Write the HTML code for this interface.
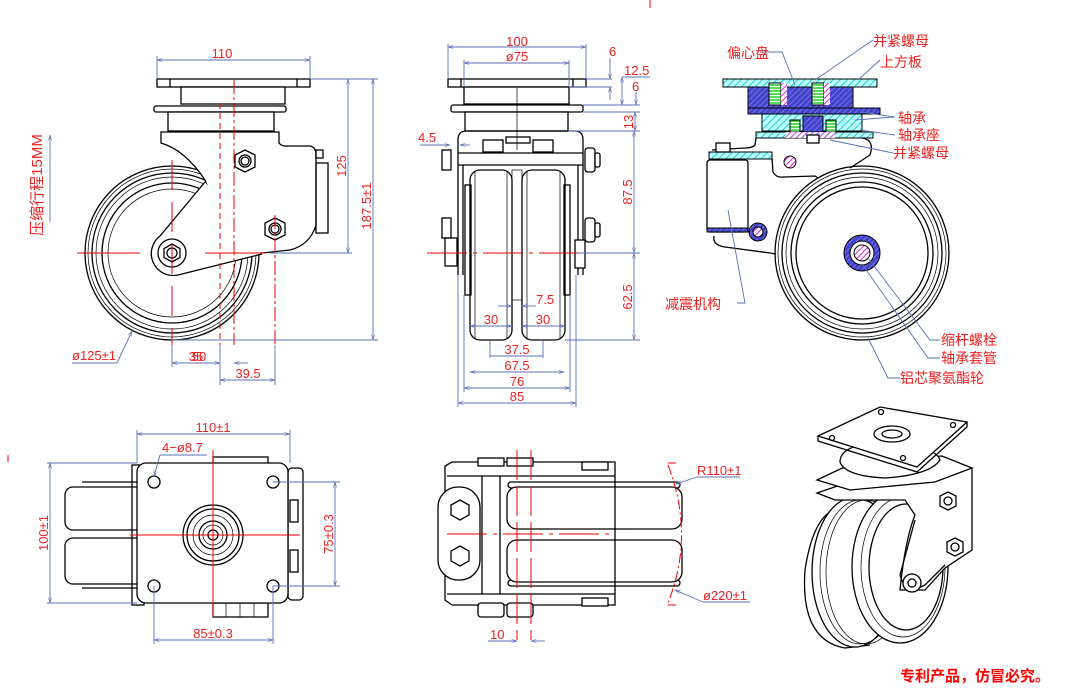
<!DOCTYPE html>
<html><head><meta charset="utf-8"><style>
body{margin:0;background:#fff}
svg{display:block;font-family:"Liberation Sans","Noto Sans CJK SC",sans-serif}
.k{stroke:#000;stroke-width:1.3;fill:none}
.kf{stroke:#000;stroke-width:1.3;fill:#fff}
.t{stroke:#000;stroke-width:.7;fill:none}
.r{stroke:#e00;stroke-width:1;fill:none;stroke-dasharray:14 3 3 3}
.rs{stroke:#e00;stroke-width:1;fill:none}
.b{stroke:#5a6fb5;stroke-width:.9;fill:none}
text{fill:#e22;font-size:13px}
.cn{font-size:14px}
</style></head><body>
<svg width="1077" height="693" viewBox="0 0 1077 693">
<defs>
<marker id="a" viewBox="0 0 10 10" refX="10" refY="5" markerWidth="7" markerHeight="6" orient="auto-start-reverse"><path d="M0,2 L10,5 L0,8" fill="none" stroke="#5a6fb5"/></marker>
<pattern id="hc" width="5" height="5" patternUnits="userSpaceOnUse" patternTransform="rotate(45)"><rect width="5" height="5" fill="#bff"/><line x1="0" y1="0" x2="0" y2="5" stroke="#2cc" stroke-width="2"/></pattern>
<pattern id="hb" width="4" height="4" patternUnits="userSpaceOnUse" patternTransform="rotate(45)"><rect width="4" height="4" fill="#44c"/><line x1="0" y1="0" x2="0" y2="4" stroke="#99e" stroke-width="1"/></pattern>
<pattern id="hp" width="4" height="4" patternUnits="userSpaceOnUse" patternTransform="rotate(45)"><rect width="4" height="4" fill="#fff"/><line x1="0" y1="0" x2="0" y2="4" stroke="#d2d" stroke-width="2"/></pattern>
<pattern id="hg" width="3" height="3" patternUnits="userSpaceOnUse"><rect width="3" height="3" fill="#fff"/><line x1="0" y1="1" x2="3" y2="1" stroke="#2c2" stroke-width="1.5"/></pattern>
</defs>
<line x1="650" y1="0" x2="650" y2="8" class="rs"/><line x1="8" y1="455" x2="8" y2="462" class="rs"/>

<!-- ===== VIEW 1 ===== -->
<g>
<circle cx="172" cy="253" r="87" class="k"/><circle cx="172" cy="253" r="84" class="t"/><circle cx="172" cy="253" r="80" class="k"/><circle cx="172" cy="253" r="76" class="t"/><circle cx="172" cy="253" r="70" class="k"/><circle cx="172" cy="253" r="64" class="t"/>
<rect x="157" y="79" width="153" height="8" class="kf"/><line x1="170" y1="79" x2="170" y2="87" class="k"/><line x1="297" y1="79" x2="297" y2="87" class="k"/>
<rect x="181" y="87" width="104" height="17" class="kf"/>
<rect x="154" y="106" width="132" height="6" rx="2" class="kf"/>
<rect x="168" y="112" width="106" height="19" class="kf"/>
<path d="M161,132 H279 V143 Q282,147 290,146 H310 Q316,147 316,155 V225 Q310,245 290,250 L262,253 L245,250 Q232,247 225,230 Q215,205 205,180 Q185,150 161,143 Z" class="kf"/>
<path d="M205,182 L160,236 A22,22 0 0 0 178,275 L262,254" class="kf"/>
<rect x="316" y="163" width="12" height="70" class="k"/><rect x="316" y="150" width="7" height="8" class="k"/>
<polygon points="245,150 255,155 255,167 245,172 235,167 235,155" class="kf"/><circle cx="245" cy="161" r="6" class="k"/><circle cx="245" cy="161" r="4" class="k"/>
<polygon points="275,218 285,223 285,235 275,240 265,235 265,223" class="kf"/><circle cx="275" cy="229" r="6" class="k"/><circle cx="275" cy="229" r="4" class="k"/>
<circle cx="172" cy="253" r="14" class="k"/><polygon points="172,244 180,248.5 180,257.5 172,262 164,257.5 164,248.5" class="k"/><circle cx="172" cy="253" r="5" class="k"/>
<line x1="77" y1="253" x2="140" y2="253" class="rs"/><line x1="205" y1="253" x2="265" y2="253" class="rs"/>
<line x1="172" y1="160" x2="172" y2="345" class="rs" stroke-dasharray="30 12"/>
<line x1="220" y1="103" x2="220" y2="345" class="rs" stroke-dasharray="6 4"/>
<line x1="234" y1="80" x2="234" y2="345" class="r"/>
<line x1="275" y1="215" x2="275" y2="345" class="r"/>
<line x1="157" y1="60" x2="310" y2="60" class="b" marker-start="url(#a)" marker-end="url(#a)"/><line x1="157" y1="56" x2="157" y2="79" class="b"/><line x1="310" y1="56" x2="310" y2="79" class="b"/>
<text x="222" y="58" text-anchor="middle">110</text>
<line x1="310" y1="79" x2="378" y2="79" class="b"/><line x1="270" y1="253" x2="352" y2="253" class="b"/><line x1="172" y1="340" x2="378" y2="340" class="b"/>
<line x1="348" y1="79" x2="348" y2="253" class="b" marker-start="url(#a)" marker-end="url(#a)"/><line x1="373" y1="79" x2="373" y2="340" class="b" marker-start="url(#a)" marker-end="url(#a)"/>
<text transform="translate(346,166) rotate(-90)" text-anchor="middle">125</text>
<text transform="translate(371,206) rotate(-90)" text-anchor="middle">187.5±1</text>
<line x1="172" y1="345" x2="172" y2="367" class="b"/><line x1="220" y1="345" x2="220" y2="385" class="b"/><line x1="275" y1="345" x2="275" y2="385" class="b"/>
<line x1="172" y1="363" x2="220" y2="363" class="b" marker-start="url(#a)" marker-end="url(#a)"/><line x1="234" y1="363" x2="248" y2="363" class="b" marker-start="url(#a)"/>
<text x="196" y="361" text-anchor="middle">35</text><text x="199" y="361" text-anchor="middle">50</text>
<line x1="220" y1="380" x2="275" y2="380" class="b" marker-start="url(#a)" marker-end="url(#a)"/><text x="248" y="378" text-anchor="middle">39.5</text>
<line x1="72" y1="363" x2="117" y2="363" class="b"/><line x1="117" y1="363" x2="132" y2="331" class="b" marker-end="url(#a)"/><text x="72" y="360">ø125±1</text>
<line x1="50" y1="222" x2="50" y2="135" class="b" marker-end="url(#a)"/>
<text transform="translate(42,185) rotate(-90)" text-anchor="middle" class="cn" style="font-size:15px">压缩行程15MM</text>
</g>

<!-- ===== VIEW 2 ===== -->
<g>
<rect x="470" y="170" width="42" height="170" rx="10" class="kf"/><rect x="522" y="170" width="43" height="170" rx="10" class="kf"/>
<line x1="475" y1="172" x2="475" y2="338" class="t"/><line x1="507" y1="172" x2="507" y2="338" class="t"/><line x1="527" y1="172" x2="527" y2="338" class="t"/><line x1="560" y1="172" x2="560" y2="338" class="t"/>
<rect x="465" y="185" width="6" height="110" class="k"/><rect x="564" y="185" width="6" height="110" class="k"/>
<rect x="512" y="170" width="10" height="130" class="t"/>
<rect x="448" y="79" width="138" height="8" class="kf"/><line x1="461" y1="79" x2="461" y2="87" class="k"/><line x1="573" y1="79" x2="573" y2="87" class="k"/>
<rect x="464" y="87" width="105" height="17" class="kf"/>
<rect x="451" y="105" width="132" height="7" rx="2" class="kf"/>
<rect x="465" y="112" width="103" height="19" class="kf"/>
<path d="M458,275 V140 Q458,131 466,131 H575 Q583,131 583,140 V275" class="k"/>
<line x1="458" y1="153" x2="583" y2="153" class="k"/><line x1="458" y1="165" x2="583" y2="165" class="k"/>
<line x1="463" y1="165" x2="463" y2="275" class="k"/><line x1="578" y1="165" x2="578" y2="275" class="k"/>
<rect x="483" y="140" width="20" height="12" class="k"/><rect x="533" y="140" width="20" height="12" class="k"/><rect x="506" y="137" width="24" height="6" class="k"/>
<rect x="442" y="150" width="9" height="20" class="kf"/><rect x="442" y="218" width="9" height="20" class="kf"/><rect x="445" y="238" width="12" height="28" class="kf"/>
<rect x="585" y="148" width="10" height="24" rx="3" class="kf"/><rect x="595" y="153" width="5" height="14" rx="2" class="kf"/>
<rect x="585" y="218" width="10" height="24" rx="3" class="kf"/><rect x="595" y="223" width="5" height="14" rx="2" class="kf"/>
<rect x="575" y="240" width="10" height="28" class="kf"/>
<line x1="427" y1="253" x2="610" y2="253" class="rs" stroke-dasharray="40 6 4 6"/>
<line x1="517" y1="88" x2="517" y2="150" class="t"/>
<line x1="448" y1="47" x2="586" y2="47" class="b" marker-start="url(#a)" marker-end="url(#a)"/><line x1="448" y1="44" x2="448" y2="79" class="b"/><line x1="586" y1="44" x2="586" y2="79" class="b"/>
<text x="517" y="46" text-anchor="middle">100</text>
<line x1="464" y1="63" x2="569" y2="63" class="b" marker-start="url(#a)" marker-end="url(#a)"/><line x1="464" y1="60" x2="464" y2="87" class="b"/><line x1="569" y1="60" x2="569" y2="87" class="b"/>
<text x="517" y="61" text-anchor="middle">ø75</text>
<line x1="586" y1="79" x2="612" y2="79" class="b"/><line x1="569" y1="87" x2="612" y2="87" class="b"/><line x1="583" y1="105" x2="640" y2="105" class="b"/><line x1="583" y1="112" x2="640" y2="112" class="b"/><line x1="568" y1="131" x2="640" y2="131" class="b"/>
<line x1="610" y1="58" x2="610" y2="79" class="b" marker-end="url(#a)"/><line x1="610" y1="100" x2="610" y2="87" class="b" marker-end="url(#a)"/><text x="609" y="56">6</text>
<line x1="622" y1="77" x2="650" y2="77" class="b"/><line x1="622" y1="77" x2="622" y2="105" class="b" marker-start="url(#a)" marker-end="url(#a)"/><text x="624" y="75">12.5</text>
<line x1="636" y1="92" x2="636" y2="105" class="b" marker-end="url(#a)"/><text x="632" y="91">6</text>
<line x1="635" y1="112" x2="635" y2="131" class="b" marker-start="url(#a)" marker-end="url(#a)"/><text transform="translate(633,122) rotate(-90)" text-anchor="middle">13</text>
<line x1="578" y1="253" x2="640" y2="253" class="b"/><line x1="565" y1="340" x2="640" y2="340" class="b"/>
<line x1="634" y1="131" x2="634" y2="253" class="b" marker-start="url(#a)" marker-end="url(#a)"/><line x1="634" y1="253" x2="634" y2="340" class="b" marker-start="url(#a)" marker-end="url(#a)"/>
<text transform="translate(632,192) rotate(-90)" text-anchor="middle">87.5</text><text transform="translate(632,297) rotate(-90)" text-anchor="middle">62.5</text>
<line x1="420" y1="145" x2="450" y2="145" class="b" marker-end="url(#a)"/><line x1="470" y1="145" x2="460" y2="145" class="b" marker-end="url(#a)"/><text x="418" y="142">4.5</text>
<line x1="458" y1="275" x2="458" y2="407" class="b"/><line x1="576" y1="275" x2="576" y2="407" class="b"/>
<line x1="464" y1="295" x2="464" y2="392" class="b"/><line x1="570" y1="295" x2="570" y2="392" class="b"/>
<line x1="490" y1="340" x2="490" y2="358" class="b"/><line x1="543" y1="340" x2="543" y2="358" class="b"/>
<line x1="458" y1="403" x2="576" y2="403" class="b" marker-start="url(#a)" marker-end="url(#a)"/><text x="517" y="401" text-anchor="middle">85</text>
<line x1="464" y1="388" x2="570" y2="388" class="b" marker-start="url(#a)" marker-end="url(#a)"/><text x="517" y="386" text-anchor="middle">76</text>
<line x1="470" y1="372" x2="564" y2="372" class="b" marker-start="url(#a)" marker-end="url(#a)"/><text x="517" y="370" text-anchor="middle">67.5</text>
<line x1="490" y1="356" x2="543" y2="356" class="b"/><text x="517" y="354" text-anchor="middle">37.5</text>
<line x1="470" y1="326" x2="512" y2="326" class="b" marker-start="url(#a)" marker-end="url(#a)"/><text x="491" y="324" text-anchor="middle">30</text>
<line x1="522" y1="326" x2="565" y2="326" class="b" marker-start="url(#a)" marker-end="url(#a)"/><text x="543" y="324" text-anchor="middle">30</text>
<line x1="498" y1="306" x2="512" y2="306" class="b" marker-end="url(#a)"/><line x1="536" y1="306" x2="522" y2="306" class="b" marker-end="url(#a)"/><text x="536" y="304">7.5</text>
</g>

<!-- ===== VIEW 3 (section) ===== -->
<g>
<circle cx="862" cy="253" r="87" class="k"/><circle cx="862" cy="253" r="84" class="t"/><circle cx="862" cy="253" r="80" class="k"/><circle cx="862" cy="253" r="76" class="t"/><circle cx="862" cy="253" r="71" class="k"/><circle cx="862" cy="253" r="66" class="k"/>
<circle cx="862" cy="253" r="18" fill="url(#hb)" stroke="#000"/><circle cx="862" cy="253" r="12" fill="#fff" stroke="#000"/><circle cx="862" cy="253" r="8" fill="url(#hp)" stroke="#000"/>
<path d="M756,138 L755,145 Q752,148 745,148 L712,150" class="k"/>
<path d="M772,158 L773,172 Q776,178 784,177 L815,176 L818,178" class="k"/>
<path d="M714,236 Q712,245 725,247 L770,253 L776,254" class="k"/>
<path d="M862,138 Q875,140 870,155 L850,168" class="k"/>
<rect x="709" y="152" width="63" height="7" fill="url(#hc)" stroke="#000"/>
<rect x="716" y="143" width="14" height="9" class="kf"/>
<rect x="707" y="160" width="41" height="72" rx="3" class="kf"/><rect x="707" y="228" width="41" height="4" fill="url(#hb)" stroke="#000"/>
<circle cx="790" cy="162" r="6" fill="url(#hp)" stroke="#000"/>
<circle cx="758" cy="232" r="9" fill="url(#hb)" stroke="#000"/><circle cx="758" cy="232" r="5" fill="url(#hp)" stroke="#000"/>
<rect x="723" y="79" width="154" height="8" fill="url(#hc)" stroke="#000"/>
<rect x="748" y="87" width="105" height="21" fill="url(#hb)" stroke="#000"/>
<rect x="769" y="83" width="12" height="22" fill="url(#hg)" stroke="#000"/><rect x="812" y="83" width="12" height="22" fill="url(#hg)" stroke="#000"/>
<rect x="781" y="83" width="6" height="22" fill="url(#hp)"/><rect x="824" y="83" width="6" height="22" fill="url(#hp)"/>
<rect x="748" y="108" width="132" height="6" fill="url(#hb)" stroke="#000"/>
<rect x="762" y="114" width="100" height="17" fill="url(#hc)" stroke="#000"/>
<rect x="790" y="120" width="10" height="14" fill="url(#hg)" stroke="#000"/><rect x="826" y="120" width="10" height="14" fill="url(#hg)" stroke="#000"/>
<rect x="803" y="116" width="20" height="22" fill="url(#hb)" stroke="#000"/>
<rect x="756" y="132" width="117" height="6" fill="url(#hc)" stroke="#000"/>
<rect x="785" y="132" width="50" height="6" fill="url(#hp)" opacity=".8"/>
<rect x="807" y="135" width="12" height="8" class="kf"/>
<g class="b">
<polyline points="760,52 782,52 795,85"/><line x1="873" y1="40" x2="815" y2="80"/><line x1="880" y1="60" x2="858" y2="80"/>
<line x1="895" y1="117" x2="855" y2="120"/><line x1="895" y1="117" x2="860" y2="112"/>
<line x1="895" y1="135" x2="860" y2="130"/><line x1="893" y1="153" x2="830" y2="140"/>
<polyline points="737,303 745,303 728,210"/>
<polyline points="940,340 930,340 868,258"/><polyline points="940,358 928,358 862,264"/><polyline points="900,378 888,378 868,338"/>
</g>
<text x="727" y="58" class="cn">偏心盘</text><text x="873" y="46" class="cn">并紧螺母</text><text x="880" y="67" class="cn">上方板</text>
<text x="898" y="123" class="cn">轴承</text><text x="898" y="140" class="cn">轴承座</text><text x="893" y="158" class="cn">并紧螺母</text>
<text x="665" y="309" class="cn">减震机构</text><text x="941" y="345" class="cn">缩杆螺栓</text><text x="941" y="363" class="cn">轴承套管</text><text x="900" y="383" class="cn">铝芯聚氨酯轮</text>
</g>

<!-- ===== VIEW 4 (top) ===== -->
<g>
<rect x="65" y="487" width="80" height="43" rx="8" class="kf"/><rect x="65" y="538" width="80" height="46" rx="8" class="kf"/>
<line x1="82" y1="482" x2="137" y2="482" class="k"/><line x1="82" y1="588" x2="137" y2="588" class="k"/>
<rect x="132" y="465" width="12" height="140" class="k"/>
<rect x="288" y="468" width="15" height="132" rx="4" class="kf"/>
<rect x="290" y="500" width="8" height="22" class="k"/><rect x="290" y="550" width="8" height="22" class="k"/>
<rect x="213" y="457" width="55" height="8" class="kf"/><rect x="213" y="603" width="55" height="14" class="kf"/>
<line x1="226" y1="603" x2="226" y2="617" class="t"/><line x1="240" y1="603" x2="240" y2="617" class="t"/><line x1="254" y1="603" x2="254" y2="617" class="t"/>
<rect x="137" y="463" width="151" height="140" rx="9" class="kf"/>
<circle cx="154" cy="482" r="6" class="k"/><circle cx="273" cy="482" r="6" class="k"/><circle cx="154" cy="586" r="6" class="k"/><circle cx="273" cy="586" r="6" class="k"/>
<circle cx="213" cy="535" r="30" class="k" stroke-width="2"/><circle cx="213" cy="535" r="26" class="k"/><circle cx="213" cy="535" r="20" class="t"/><circle cx="213" cy="535" r="14" class="k"/><circle cx="213" cy="535" r="10" class="t"/><circle cx="213" cy="535" r="5" class="k"/>
<line x1="130" y1="535" x2="300" y2="535" class="rs"/><line x1="213" y1="450" x2="213" y2="617" class="rs"/>
<line x1="137" y1="434" x2="290" y2="434" class="b" marker-start="url(#a)" marker-end="url(#a)"/><line x1="137" y1="430" x2="137" y2="463" class="b"/><line x1="290" y1="430" x2="290" y2="463" class="b"/>
<text x="213" y="432" text-anchor="middle">110±1</text>
<line x1="160" y1="455" x2="207" y2="455" class="b"/><line x1="160" y1="455" x2="154" y2="476" class="b" marker-end="url(#a)"/><text x="162" y="452">4−ø8.7</text>
<line x1="47" y1="463" x2="137" y2="463" class="b"/><line x1="47" y1="603" x2="137" y2="603" class="b"/>
<line x1="50" y1="463" x2="50" y2="603" class="b" marker-start="url(#a)" marker-end="url(#a)"/><text transform="translate(48,533) rotate(-90)" text-anchor="middle">100±1</text>
<line x1="273" y1="482" x2="340" y2="482" class="b"/><line x1="273" y1="586" x2="340" y2="586" class="b"/>
<line x1="335" y1="482" x2="335" y2="586" class="b" marker-start="url(#a)" marker-end="url(#a)"/><text transform="translate(333,534) rotate(-90)" text-anchor="middle">75±0.3</text>
<line x1="154" y1="586" x2="154" y2="644" class="b"/><line x1="273" y1="586" x2="273" y2="644" class="b"/>
<line x1="154" y1="640" x2="273" y2="640" class="b" marker-start="url(#a)" marker-end="url(#a)"/><text x="213" y="638" text-anchor="middle">85±0.3</text>
</g>

<!-- ===== VIEW 5 (bottom) ===== -->
<g>
<rect x="508" y="482" width="172" height="6" rx="3" class="k"/><rect x="508" y="580" width="172" height="6" rx="3" class="k"/>
<rect x="507" y="487" width="175" height="42" rx="10" class="kf"/><rect x="507" y="540" width="175" height="42" rx="10" class="kf"/>
<path d="M445,466 L452,462 H615 V605 H452 L445,600 Z" class="k"/>
<line x1="447" y1="476" x2="615" y2="476" class="k"/><line x1="447" y1="594" x2="615" y2="594" class="k"/>
<line x1="482" y1="476" x2="482" y2="594" class="k"/><line x1="500" y1="476" x2="500" y2="594" class="k"/>
<rect x="438" y="487" width="42" height="93" rx="20" class="kf"/>
<polygon points="460,500 469,505 469,515 460,520 451,515 451,505" class="k"/><polygon points="460,546 469,551 469,561 460,566 451,561 451,551" class="k"/>
<rect x="478" y="458" width="26" height="8" class="kf"/><rect x="507" y="458" width="26" height="8" class="kf"/><rect x="582" y="462" width="26" height="8" class="kf"/>
<rect x="478" y="603" width="26" height="14" rx="3" class="kf"/><rect x="507" y="603" width="26" height="14" rx="3" class="kf"/><rect x="582" y="598" width="26" height="8" class="kf"/>
<line x1="447" y1="534" x2="615" y2="534" class="rs" stroke-dasharray="40 6 4 6"/>
<line x1="517" y1="450" x2="517" y2="640" class="rs" stroke-dasharray="30 6"/><line x1="531" y1="450" x2="531" y2="640" class="rs" stroke-dasharray="30 6"/>
<path d="M668,465 Q695,535 668,603" class="rs" stroke-dasharray="10 3 2 3"/>
<line x1="668" y1="463" x2="676" y2="463" class="rs"/><line x1="668" y1="605" x2="676" y2="605" class="rs"/>
<line x1="740" y1="477" x2="697" y2="477" class="b"/><line x1="697" y1="477" x2="676" y2="484" class="b" marker-end="url(#a)"/><text x="697" y="475">R110±1</text>
<line x1="750" y1="602" x2="703" y2="602" class="b"/><line x1="703" y1="602" x2="675" y2="590" class="b" marker-end="url(#a)"/><text x="703" y="600">ø220±1</text>
<line x1="488" y1="641" x2="517" y2="641" class="b" marker-end="url(#a)"/><line x1="545" y1="641" x2="531" y2="641" class="b" marker-end="url(#a)"/><text x="490" y="639">10</text>
</g>

<!-- ===== 3D VIEW ===== -->
<g>
<path d="M846,508 Q815,505 805,570 Q800,640 845,648 L870,645" class="kf"/>
<ellipse cx="855" cy="572" rx="43" ry="75" class="kf"/>
<ellipse cx="860" cy="572" rx="40" ry="72" class="t"/><ellipse cx="866" cy="572" rx="40" ry="72" class="t"/>
<ellipse cx="900" cy="567" rx="48" ry="76" class="kf"/>
<ellipse cx="903" cy="567" rx="42" ry="70" class="t"/><ellipse cx="906" cy="567" rx="37" ry="63" class="k"/>
<path d="M817,493 L855,480 L942,470 L972,468 V550 L945,568 L925,590 L900,590 Q905,540 915,515 L905,500 L835,500 Z" class="kf"/>
<path d="M817,480 L855,462 L942,456 L972,468 L935,482 L850,490 Z" class="kf"/>
<path d="M840,462 Q840,445 880,442 Q935,445 940,460 Q930,475 885,478 Q845,476 840,462 Z" class="kf"/>
<path d="M818,436 L880,407 L967,422 L917,467 Z" class="kf"/><path d="M818,436 L818,441 L917,472 L967,427 L967,422" class="k"/>
<ellipse cx="892" cy="434" rx="18" ry="8" class="k" stroke-width="2"/><ellipse cx="892" cy="434" rx="10" ry="4" class="k"/>
<circle cx="832" cy="438" r="2.5" class="k"/><circle cx="881" cy="412" r="2.5" class="k"/><circle cx="953" cy="425" r="2.5" class="k"/><circle cx="903" cy="458" r="2.5" class="k"/>
<polygon points="948,492 956,496 956,506 948,510 940,506 940,496" class="kf"/><circle cx="948" cy="501" r="4" class="k"/>
<polygon points="955,538 963,542 963,552 955,556 947,552 947,542" class="kf"/><circle cx="955" cy="547" r="4" class="k"/>
<path d="M915,520 L900,575 Q905,595 925,585 L945,565" class="k"/>
<circle cx="912" cy="583" r="9" class="kf"/><circle cx="912" cy="583" r="4" class="k"/>
</g>
<text x="900" y="681" style="font-size:15px;font-weight:bold;fill:#f00">专利产品，仿冒必究。</text>
</svg>
</body></html>
